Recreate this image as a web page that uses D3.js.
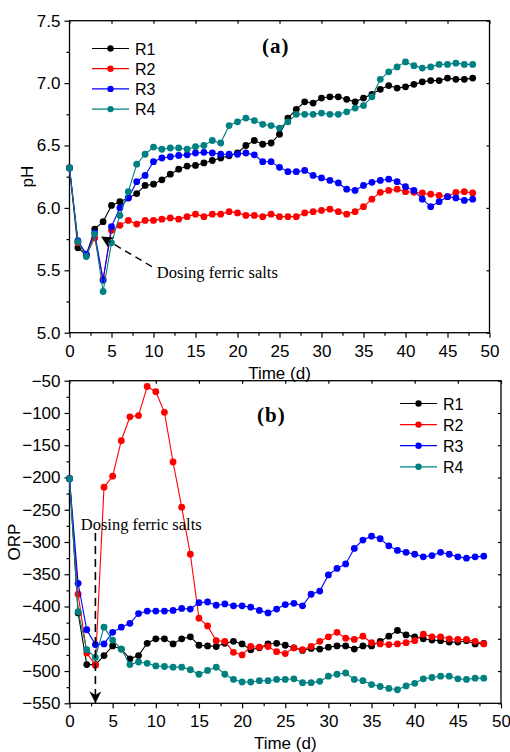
<!DOCTYPE html>
<html>
<head>
<meta charset="utf-8">
<script src="https://cdn.jsdelivr.net/npm/d3@7"></script>
<style>
  html, body { margin: 0; padding: 0; background: #fff; }
  svg { display: block; }
</style>
</head>
<body>
<div id="chart"></div>
<script>
// Days 0..48
const days = [0, 1, 2, 3, 4, 5, 6, 7, 8, 9, 10, 11, 12, 13, 14, 15, 16, 17, 18, 19, 20, 21, 22, 23, 24,
  25, 26, 27, 28, 29, 30, 31, 32, 33, 34, 35, 36, 37, 38, 39, 40, 41, 42, 43, 44, 45, 46, 47, 48];

const seriesNames = ["R1", "R2", "R3", "R4"];
const seriesColors = ["#000000", "#ff0000", "#0000ff", "#008080"];

// (a) pH
const phR1 = [6.32, 5.68, 5.62, 5.83, 5.89, 6.02, 6.05, 6.08, 6.115, 6.18,
  6.19, 6.225, 6.27, 6.31, 6.335, 6.34, 6.36, 6.38, 6.40, 6.417,
  6.44, 6.50, 6.54, 6.51, 6.52, 6.59, 6.72, 6.79, 6.85, 6.84,
  6.88, 6.89, 6.89, 6.87, 6.85, 6.88, 6.91, 6.95, 6.98, 6.96,
  6.97, 6.99, 7.01, 7.02, 7.02, 7.04, 7.03, 7.03, 7.04];
const phR2 = [6.32, 5.72, 5.62, 5.76, 5.43, 5.82, 5.86, 5.90, 5.87, 5.90,
  5.90, 5.91, 5.92, 5.91, 5.93, 5.95, 5.93, 5.95, 5.95, 5.97,
  5.96, 5.94, 5.94, 5.93, 5.95, 5.93, 5.93, 5.93, 5.96, 5.97,
  5.98, 5.99, 5.97, 5.95, 5.97, 6.01, 6.07, 6.125, 6.14, 6.15,
  6.13, 6.125, 6.12, 6.11, 6.10, 6.09, 6.125, 6.13, 6.12];
const phR3 = [6.32, 5.737, 5.63, 5.80, 5.42, 5.85, 6.00, 6.08, 6.21, 6.26,
  6.37, 6.40, 6.41, 6.42, 6.425, 6.44, 6.445, 6.44, 6.43, 6.43,
  6.43, 6.44, 6.425, 6.37, 6.37, 6.325, 6.29, 6.29, 6.30, 6.26,
  6.24, 6.22, 6.20, 6.15, 6.14, 6.18, 6.205, 6.22, 6.23, 6.21,
  6.17, 6.14, 6.07, 6.01, 6.05, 6.09, 6.08, 6.06, 6.07];
const phR4 = [6.32, 5.73, 5.61, 5.79, 5.33, 5.72, 5.94, 6.13, 6.35, 6.43,
  6.487, 6.47, 6.48, 6.48, 6.47, 6.49, 6.50, 6.54, 6.52, 6.66,
  6.69, 6.72, 6.70, 6.67, 6.66, 6.64, 6.69, 6.75, 6.75, 6.75,
  6.76, 6.75, 6.75, 6.77, 6.80, 6.82, 6.89, 7.03, 7.09, 7.13,
  7.17, 7.14, 7.12, 7.13, 7.15, 7.15, 7.16, 7.15, 7.15];

// (b) ORP
const orpR1 = [-202, -410, -490, -490, -476, -461, -466, -481, -476, -457,
  -450, -450, -458, -450, -447, -460, -461, -462, -457, -454,
  -458, -467, -464, -458, -457, -460, -464, -468, -465, -466,
  -463, -461, -461, -466, -461, -461, -454, -446, -437, -444,
  -447, -450, -452, -453, -455, -455, -453, -458, -457];
const orpR2 = [-202, -381, -472, -491, -215, -198, -143, -106, -104, -59,
  -67, -99, -176, -246, -319, -418, -430, -453, -454, -471,
  -475, -462, -463, -462, -470, -473, -464, -467, -462, -454,
  -447, -440, -449, -451, -446, -456, -458, -459, -458, -456,
  -453, -443, -447, -447, -450, -451, -451, -454, -458];
const orpR3 = [-202, -364, -436, -459, -458, -440, -432, -426, -411, -407,
  -407, -407, -406, -403, -404, -394, -393, -398, -396, -399,
  -399, -401, -406, -410, -404, -397, -395, -399, -381, -376,
  -351, -341, -334, -310, -297, -291, -295, -306, -313, -316,
  -319, -323, -321, -316, -319, -323, -325, -323, -322];
const orpR4 = [-202, -408, -467, -479, -432, -452, -466, -490, -486, -488,
  -492, -493, -494, -494, -498, -505, -499, -494, -505, -513,
  -517, -517, -515, -515, -513, -513, -512, -518, -518, -516,
  -508, -505, -503, -513, -515, -521, -524, -527, -529, -523,
  -519, -512, -510, -508, -508, -512, -513, -511, -511];

const xTicks = [0, 5, 10, 15, 20, 25, 30, 35, 40, 45, 50];
const phTicks = [5.0, 5.5, 6.0, 6.5, 7.0, 7.5];
const orpTicks = [-550, -500, -450, -400, -350, -300, -250, -200, -150, -100, -50];

const W = 510, H = 752;
const SANS = "'Liberation Sans', Arial, sans-serif";
const SERIF = "'Liberation Serif', 'Times New Roman', serif";

const svg = d3.select("#chart").append("svg")
  .attr("width", W).attr("height", H);

svg.append("defs").append("marker")
  .attr("id", "arrow")
  .attr("viewBox", "0 0 10 10")
  .attr("refX", 10).attr("refY", 5)
  .attr("markerWidth", 14).attr("markerHeight", 12)
  .attr("markerUnits", "userSpaceOnUse")
  .attr("orient", "auto")
  .append("path").attr("d", "M0,0 L10,5 L0,10 L3,5 Z").attr("fill", "#000");

function drawPanel(cfg) {
  const x = d3.scaleLinear().domain([0, 50]).range([cfg.left, cfg.right]);
  const y = d3.scaleLinear().domain(cfg.yDomain).range([cfg.bottom, cfg.top]);
  const g = svg.append("g");

  // Frame
  g.append("rect")
    .attr("x", cfg.left).attr("y", cfg.top)
    .attr("width", cfg.right - cfg.left).attr("height", cfg.bottom - cfg.top)
    .attr("fill", "none").attr("stroke", "#000").attr("stroke-width", 1.3);

  // Bottom axis (outward ticks + minor)
  const xAxis = g.append("g").attr("transform", `translate(0,${cfg.bottom})`)
    .call(d3.axisBottom(x).tickValues(xTicks).tickSize(5).tickPadding(7).tickFormat(d3.format("d")));
  const xMinor = g.append("g").attr("transform", `translate(0,${cfg.bottom})`)
    .call(d3.axisBottom(x).tickValues(xTicks.slice(0, -1).map(d => d + 2.5)).tickSize(3).tickFormat(""));

  // Left axis
  const yAxis = g.append("g").attr("transform", `translate(${cfg.left},0)`)
    .call(d3.axisLeft(y).tickValues(cfg.yTicks).tickSize(5).tickPadding(4).tickFormat(cfg.yFormat));
  const yMinor = g.append("g").attr("transform", `translate(${cfg.left},0)`)
    .call(d3.axisLeft(y).tickValues(cfg.yTicks.slice(0, -1).map(d => d + cfg.yMinorStep)).tickSize(3).tickFormat(""));

  // Top / right: small inward ticks
  const xTop = g.append("g").attr("transform", `translate(0,${cfg.top})`)
    .call(d3.axisTop(x).tickValues(xTicks).tickSize(-3).tickFormat(""));
  const yRight = g.append("g").attr("transform", `translate(${cfg.right},0)`)
    .call(d3.axisRight(y).tickValues(cfg.yTicks).tickSize(-3).tickFormat(""));

  [xAxis, xMinor, yAxis, yMinor, xTop, yRight].forEach(a => {
    a.select(".domain").remove();
    a.selectAll("line").attr("stroke", "#000").attr("stroke-width", 1.2);
    a.selectAll("text").attr("font-family", SANS).attr("font-size", 17).attr("fill", "#000");
  });

  // Axis titles
  g.append("text")
    .attr("x", (cfg.left + cfg.right) / 2).attr("y", cfg.bottom + 46)
    .attr("text-anchor", "middle").attr("font-family", SANS).attr("font-size", 17)
    .text("Time (d)");
  g.append("text")
    .attr("transform", `translate(${cfg.yTitleX},${(cfg.top + cfg.bottom) / 2}) rotate(-90)`)
    .attr("text-anchor", "middle").attr("font-family", SANS).attr("font-size", 17)
    .text(cfg.yTitle);

  // Series lines + markers
  const line = d3.line().x((d, i) => x(days[i])).y(d => y(d));
  cfg.series.forEach((vals, si) => {
    g.append("path").datum(vals)
      .attr("d", line).attr("fill", "none")
      .attr("stroke", seriesColors[si]).attr("stroke-width", 1.1);
    g.selectAll(null).data(vals).join("circle")
      .attr("cx", (d, i) => x(days[i])).attr("cy", d => y(d))
      .attr("r", 3.4).attr("fill", seriesColors[si]);
  });

  // Legend
  const lg = g.append("g").attr("transform", `translate(${cfg.legendX},${cfg.legendY})`);
  seriesNames.forEach((name, i) => {
    const row = lg.append("g").attr("transform", `translate(0,${i * cfg.legendStep})`);
    row.append("line").attr("x1", 0).attr("x2", 37).attr("y1", 0).attr("y2", 0)
      .attr("stroke", seriesColors[i]).attr("stroke-width", 1.2);
    row.append("circle").attr("cx", 18.5).attr("cy", 0).attr("r", 3.2).attr("fill", seriesColors[i]);
    row.append("text").attr("x", 43).attr("y", 6)
      .attr("font-family", SANS).attr("font-size", 16).text(name);
  });

  // Panel label
  g.append("text")
    .attr("x", cfg.labelX).attr("y", cfg.labelY)
    .attr("font-family", SERIF).attr("font-weight", "bold").attr("font-size", 21)
    .attr("letter-spacing", 1)
    .text(cfg.label);

  return { g, x, y };
}

// (a) pH panel
const a = drawPanel({
  left: 69.5, right: 489.5, top: 20.7, bottom: 332.7,
  yDomain: [5.0, 7.5], yTicks: phTicks, yMinorStep: 0.25, yFormat: d3.format(".1f"),
  yTitle: "pH", yTitleX: 33,
  series: [phR1, phR2, phR3, phR4],
  legendX: 92, legendY: 48.5, legendStep: 20.2,
  label: "(a)", labelX: 262, labelY: 53
});

// Dosing annotation (a)
a.g.append("line")
  .attr("x1", a.x(9.8)).attr("y1", a.y(5.53))
  .attr("x2", a.x(3.75)).attr("y2", a.y(5.77))
  .attr("stroke", "#000").attr("stroke-width", 1.4)
  .attr("stroke-dasharray", "7,5")
  .attr("marker-end", "url(#arrow)");
a.g.append("text")
  .attr("x", a.x(10.4)).attr("y", a.y(5.44))
  .attr("font-family", SERIF).attr("font-size", 16.5)
  .text("Dosing ferric salts");

// (b) ORP panel
const b = drawPanel({
  left: 69.5, right: 501, top: 380.7, bottom: 703.3,
  yDomain: [-550, -50], yTicks: orpTicks, yMinorStep: 25, yFormat: d3.format("d"),
  yTitle: "ORP", yTitleX: 20,
  series: [orpR1, orpR2, orpR3, orpR4],
  legendX: 400, legendY: 403.5, legendStep: 21.1,
  label: "(b)", labelX: 257, labelY: 422
});

// Dosing annotation (b)
b.g.append("line")
  .attr("x1", b.x(3)).attr("y1", b.y(-286))
  .attr("x2", b.x(3)).attr("y2", b.y(-550))
  .attr("stroke", "#000").attr("stroke-width", 1.6)
  .attr("stroke-dasharray", "8,5")
  .attr("marker-end", "url(#arrow)");
b.g.append("text")
  .attr("x", b.x(1.3)).attr("y", b.y(-281))
  .attr("font-family", SERIF).attr("font-size", 16.5)
  .text("Dosing ferric salts");
</script>
</body>
</html>
